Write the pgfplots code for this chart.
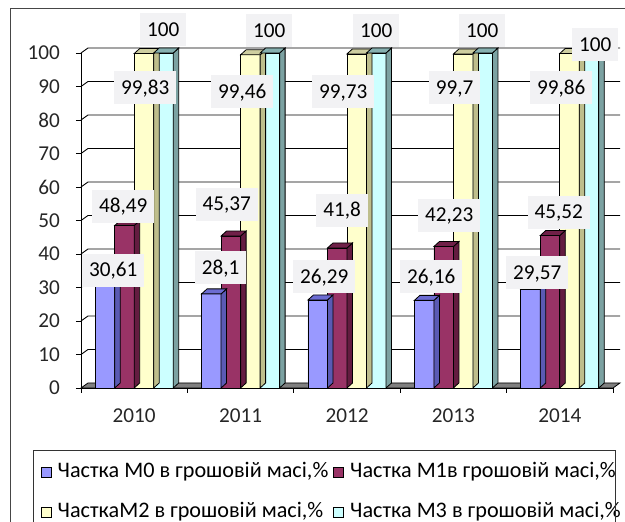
\documentclass[border=0pt]{standalone}
\usepackage{pgfplots}
\pgfplotsset{compat=1.18}
\usepackage{fontspec}
\setmainfont{Carlito}
\definecolor{m0}{RGB}{153,153,255}
\definecolor{m0top}{RGB}{108,108,210}
\definecolor{m0side}{RGB}{90,90,180}
\definecolor{m1}{RGB}{153,51,102}
\definecolor{m1top}{RGB}{112,32,72}
\definecolor{m1side}{RGB}{100,28,64}
\definecolor{m2}{RGB}{255,255,204}
\definecolor{m2top}{RGB}{206,206,160}
\definecolor{m2side}{RGB}{190,190,140}
\definecolor{m3}{RGB}{204,255,255}
\definecolor{m3top}{RGB}{134,176,176}
\definecolor{m3side}{RGB}{124,162,162}
\definecolor{floorgray}{RGB}{128,128,128}
\definecolor{labfill}{RGB}{242,242,244}
\definecolor{framegray}{RGB}{70,70,70}
\newcommand\defbarmark[4]{%
\pgfdeclareplotmark{#1}{%
 \pgfmathsetmacro\hh{\val*3.35}%
 \pgfmathsetmacro\xl{#2-9.75}%
 \pgfmathsetmacro\xr{#2+9.75}%
 \pgfmathsetmacro\xrr{#2+9.75+5.5}%
 \pgfmathsetmacro\xll{#2-9.75+5.5}%
 \pgfmathsetmacro\yb{5-\hh}%
 \pgfsetlinewidth{0.8pt}\pgfsetstrokecolor{black}%
 \pgfsetfillcolor{#4}%
 \pgfpathmoveto{\pgfpoint{\xr pt}{0pt}}%
 \pgfpathlineto{\pgfpoint{\xrr pt}{5pt}}%
 \pgfpathlineto{\pgfpoint{\xrr pt}{\yb pt}}%
 \pgfpathlineto{\pgfpoint{\xr pt}{-\hh pt}}%
 \pgfpathclose\pgfusepath{fill,stroke}%
 \pgfsetfillcolor{#3}%
 \pgfpathmoveto{\pgfpoint{\xl pt}{0pt}}%
 \pgfpathlineto{\pgfpoint{\xr pt}{0pt}}%
 \pgfpathlineto{\pgfpoint{\xrr pt}{5pt}}%
 \pgfpathlineto{\pgfpoint{\xll pt}{5pt}}%
 \pgfpathclose\pgfusepath{fill,stroke}%
}}
\defbarmark{barA}{-29.25}{m0top}{m0side}
\defbarmark{barB}{-9.75}{m1top}{m1side}
\defbarmark{barC}{9.75}{m2top}{m2side}
\defbarmark{barD}{29.25}{m3top}{m3side}
\newcommand\fnt{\fontsize{21.2}{25}\selectfont}
\newcommand\lfnt{\fontsize{22.2}{26}\selectfont}
\tikzset{lab/.style={fill=labfill, inner xsep=7pt, inner ysep=0pt, minimum height=33pt, text height=13.5pt, text depth=0pt, font=\fnt}}
\pgfplotsset{depth3d/.style={scatter, only marks, mark=#1, scatter/use mapped color={draw=black}, visualization depends on={rawy \as \val}, forget plot}}
\begin{document}
\begin{tikzpicture}
\path[use as bounding box] (0,0) rectangle (625pt,522pt);
\clip (0,0) rectangle (625pt,522pt);
\begin{axis}[
  at={(81pt,134pt)}, anchor=south west,
  scale only axis, width=532pt, height=335pt,
  xmin=-0.5, xmax=4.5, ymin=0, ymax=100,
  clip=false,
  axis x line*=bottom, axis y line*=left,
  axis line style={-, line width=0.8pt, black},
  tick align=outside, major tick length=5pt,
  tick style={black, line width=0.8pt},
  ytick={0,10,...,100},
  xtick={-0.5,0.5,1.5,2.5,3.5,4.5}, xticklabels={},
  extra x ticks={0,1,2,3,4},
  extra x tick labels={2010,2011,2012,2013,2014},
  extra x tick style={major tick length=0pt},
  /pgf/number format/assume math mode=true,
  every tick label/.append style={font=\fnt, text=black!85},
  yticklabel style={anchor=east, inner sep=0pt, xshift=-16pt},
  xticklabel style={anchor=base, inner sep=0pt, yshift=-35pt},
  legend columns=2,
  legend cell align=left,
  legend style={at={(axis description cs:0,0)}, anchor=north west,
    xshift=-40.3pt, yshift=-75pt, draw=none, fill=none, font=\lfnt,
    inner sep=0pt, row sep=22pt,
    nodes={inner sep=0pt, text height=14pt, text depth=4pt},
    /tikz/every even column/.append style={column sep=5pt},
    /tikz/every odd column/.append style={column sep=6pt}},
]
% back wall grid lines
\pgfplotsinvokeforeach{10,20,30,40,50,60,70,80,90,100}{
  \draw[black, line width=0.9pt] (axis cs:-0.5,#1) -- ++(7pt,5pt) -- ([shift={(7pt,5pt)}]axis cs:4.5,#1);
}
% floor
\draw[fill=floorgray, line width=0.8pt] (axis cs:-0.5,0) -- ++(7pt,5pt) -- ([shift={(7pt,5pt)}]axis cs:4.5,0) -- (axis cs:4.5,0) -- cycle;

% M0
\addplot[depth3d=barA] coordinates {(0,30.61) (1,28.1) (2,26.29) (3,26.16) (4,29.57)};
\addplot[ybar, bar width=19.5pt, bar shift=-29.25pt, fill=m0, draw=black, line width=0.8pt,
  legend image code/.code={\draw[fill=m0, draw=black, line width=0.8pt] (0pt,-5pt) rectangle (10pt,5pt);}]
  coordinates {(0,30.61) (1,28.1) (2,26.29) (3,26.16) (4,29.57)};
\addlegendentry{Частка М0 в грошовій масі,\%}
% M1
\addplot[depth3d=barB] coordinates {(0,48.49) (1,45.37) (2,41.8) (3,42.23) (4,45.52)};
\addplot[ybar, bar width=19.5pt, bar shift=-9.75pt, fill=m1, draw=black, line width=0.8pt,
  legend image code/.code={\draw[fill=m1, draw=black, line width=0.8pt] (0pt,-5pt) rectangle (10pt,5pt);}]
  coordinates {(0,48.49) (1,45.37) (2,41.8) (3,42.23) (4,45.52)};
\addlegendentry{Частка М1в грошовій масі,\%}
% M2
\addplot[depth3d=barC] coordinates {(0,99.83) (1,99.46) (2,99.73) (3,99.7) (4,99.86)};
\addplot[ybar, bar width=19.5pt, bar shift=9.75pt, fill=m2, draw=black, line width=0.8pt,
  legend image code/.code={\draw[fill=m2, draw=black, line width=0.8pt] (0pt,-5pt) rectangle (10pt,5pt);}]
  coordinates {(0,99.83) (1,99.46) (2,99.73) (3,99.7) (4,99.86)};
\addlegendentry{ЧасткаМ2 в грошовій масі,\%}
% M3
\addplot[depth3d=barD] coordinates {(0,100) (1,100) (2,100) (3,100) (4,100)};
\addplot[ybar, bar width=19.5pt, bar shift=29.25pt, fill=m3, draw=black, line width=0.8pt,
  legend image code/.code={\draw[fill=m3, draw=black, line width=0.8pt] (0pt,-5pt) rectangle (10pt,5pt);}]
  coordinates {(0,100) (1,100) (2,100) (3,100) (4,100)};
\addlegendentry{Частка М3 в грошовій масі,\%}

% data label anchor points
\coordinate (a1) at (axis cs:-0.197,35.2);
\coordinate (a2) at (axis cs:0.813,36.0);
\coordinate (a3) at (axis cs:1.786,33.3);
\coordinate (a4) at (axis cs:2.791,33.3);
\coordinate (a5) at (axis cs:3.788,34.5);
\coordinate (b1) at (axis cs:-0.103,54.3);
\coordinate (b2) at (axis cs:0.869,54.9);
\coordinate (b3) at (axis cs:1.955,53.1);
\coordinate (b4) at (axis cs:2.961,51.6);
\coordinate (b5) at (axis cs:3.990,52.5);
\coordinate (c1) at (axis cs:0.103,89.6);
\coordinate (c2) at (axis cs:1.015,88.4);
\coordinate (c3) at (axis cs:1.964,88.5);
\coordinate (c4) at (axis cs:3.012,89.6);
\coordinate (c5) at (axis cs:4.013,89.6);
\coordinate (d1) at (axis cs:0.273,106.9);
\coordinate (d2) at (axis cs:1.269,106.7);
\coordinate (d3) at (axis cs:2.274,106.7);
\coordinate (d4) at (axis cs:3.271,106.7);
\coordinate (d5) at (axis cs:4.333,102.5);
\end{axis}
% data labels (on top of the bars)
\node[lab] at (a1) {30,61};
\node[lab] at (a2) {28,1};
\node[lab] at (a3) {26,29};
\node[lab] at (a4) {26,16};
\node[lab] at (a5) {29,57};
\node[lab] at (b1) {48,49};
\node[lab] at (b2) {45,37};
\node[lab] at (b3) {41,8};
\node[lab] at (b4) {42,23};
\node[lab] at (b5) {45,52};
\node[lab] at (c1) {99,83};
\node[lab] at (c2) {99,46};
\node[lab] at (c3) {99,73};
\node[lab] at (c4) {99,7};
\node[lab] at (c5) {99,86};
\node[lab] at (d1) {100};
\node[lab] at (d2) {100};
\node[lab] at (d3) {100};
\node[lab] at (d4) {100};
\node[lab] at (d5) {100};
% outer chart frame
\draw[framegray, line width=0.8pt] (10pt,-5pt) -- (10pt,514pt) -- (630pt,514pt);
% legend frame
\draw[black!80, line width=0.8pt] (33pt,-5pt) -- (33pt,72pt) -- (615pt,72pt) -- (615pt,-5pt);
\end{tikzpicture}
\end{document}
